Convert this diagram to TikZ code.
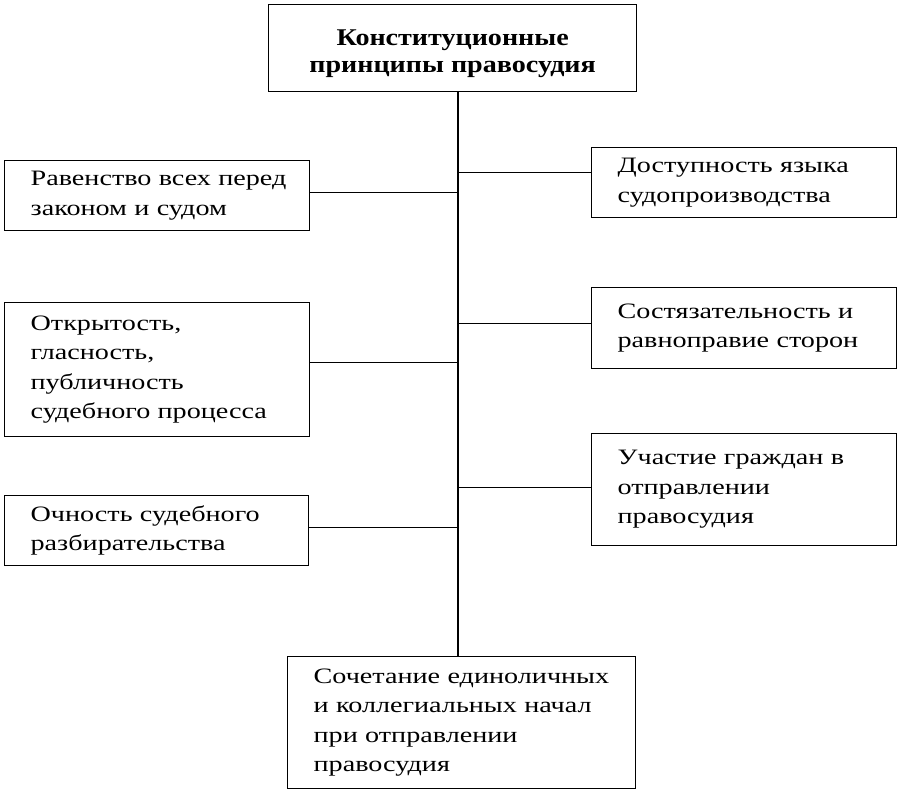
\documentclass[tikz,border=0pt]{standalone}
\usepackage{fontspec}
\setmainfont{Liberation Serif}[FakeStretch=1.28]
\newfontfamily\titlefont{Liberation Serif}[FakeStretch=1.17]
\begin{document}
\begin{tikzpicture}[x=1pt,y=-1pt,
  boxstyle/.style={draw, line width=1.3pt, align=left, inner ysep=0pt, anchor=north west,
    font=\fontsize{22}{29.5}\selectfont},
  link/.style={line width=1.3pt}]
\useasboundingbox (0,0) rectangle (900,792);
\fill[white] (0,0) rectangle (900,792);
% top
\node[draw, line width=1.3pt, align=center, anchor=north west, minimum width=368pt, minimum height=87pt,
  inner sep=0pt, font=\titlefont\fontsize{24}{27}\selectfont\bfseries] (top) at (268,4)
  {\rule{0pt}{27pt}Конституционные\\принципы правосудия};
% left
\node[boxstyle, minimum width=305pt, minimum height=70pt, text width=253pt, inner xsep=26pt] (L1) at (4,160)
  {\mbox{Равенство всех перед}\\законом и судом};
\node[boxstyle, minimum width=305pt, minimum height=134pt, text width=253pt, inner xsep=26pt] (L2) at (4,302)
  {Открытость,\\гласность,\\публичность\\судебного процесса};
\node[boxstyle, minimum width=304pt, minimum height=70pt, text width=252pt, inner xsep=26pt] (L3) at (4,495)
  {Очность судебного\\разбирательства};
% right
\node[boxstyle, minimum width=305pt, minimum height=70pt, text width=253pt, inner xsep=26pt] (R1) at (591,147)
  {Доступность языка\\судопроизводства};
\node[boxstyle, minimum width=305pt, minimum height=81pt, text width=253pt, inner xsep=26pt] (R2) at (591,287)
  {Состязательность и\\равноправие сторон};
\node[boxstyle, minimum width=305pt, minimum height=112pt, text width=253pt, inner xsep=26pt] (R3) at (591,433)
  {Участие граждан в\\отправлении\\правосудия};
% bottom
\node[boxstyle, minimum width=348pt, minimum height=132pt, text width=296pt, inner xsep=26pt] (B) at (287,656)
  {Сочетание единоличных\\и коллегиальных начал\\при отправлении\\правосудия};
\coordinate (spine) at (458,0);
\draw[link] (top.south -| spine) -- (B.north -| spine);
\draw[link] ([yshift=3pt]L1.east) -- ([yshift=3pt]L1.east -| spine);
\draw[link] ([yshift=7pt]L2.east) -- ([yshift=7pt]L2.east -| spine);
\draw[link] ([yshift=3pt]L3.east) -- ([yshift=3pt]L3.east -| spine);
\draw[link] ([yshift=10pt]R1.west) -- ([yshift=10pt]R1.west -| spine);
\draw[link] ([yshift=5pt]R2.west) -- ([yshift=5pt]R2.west -| spine);
\draw[link] ([yshift=2pt]R3.west) -- ([yshift=2pt]R3.west -| spine);
\end{tikzpicture}
\end{document}
